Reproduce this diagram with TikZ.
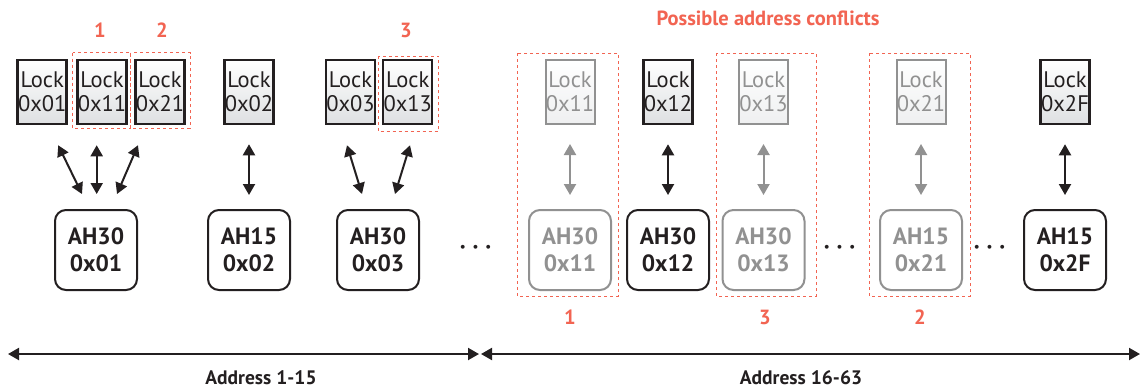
\documentclass[tikz,border=0pt]{standalone}
\usepackage{fontspec}
\setmainfont{PT Sans}
\usepackage{amsmath}
\usetikzlibrary{arrows.meta,calc}
\definecolor{dk}{RGB}{35,31,32}
\definecolor{gr}{RGB}{145,145,145}
\definecolor{rd}{RGB}{242,100,82}
\definecolor{lockbot}{RGB}{222,224,226}
\begin{document}
\begin{tikzpicture}[x=1pt,y=-1pt,
  lock/.style={draw=dk, line width=2.5pt, minimum width=49pt, minimum height=64pt, inner sep=0pt,
    top color=white, bottom color=lockbot, text=dk, align=center, font=\fontsize{22.5}{23.5}\selectfont},
  glock/.style={lock, draw=gr, line width=2pt, text=gr, bottom color=lockbot!50},
  ah/.style={draw=dk, line width=2pt, rounded corners=11pt, minimum width=82pt, minimum height=80pt,
    inner sep=0pt, fill=white, text=dk, align=center, font=\bfseries\fontsize{23.5}{27}\selectfont},
  gah/.style={ah, draw=gr, text=gr},
  link/.style={draw=dk, line width=2pt, {Triangle[length=11pt,width=12pt]}-{Triangle[length=11pt,width=12pt]}},
  glink/.style={link, draw=gr},
  vlink/.style={shorten <=19pt, shorten >=14pt},
  conf/.style={draw=rd, line width=1pt, dash pattern=on 3pt off 3pt},
  num/.style={text=rd, font=\bfseries\fontsize{20.5}{24}\selectfont},
  dots/.style={text=dk, font=\fontsize{24}{28}\selectfont},
  addr/.style={text=dk, font=\bfseries\fontsize{19.5}{22}\selectfont}
]
\useasboundingbox (0,0) rectangle (1147,389);
\fill[white] (0,0) rectangle (1147,389);

% dashed conflict frames
\draw[conf] (72.7,52.7) rectangle (130,128.3);
\draw[conf] (130.7,52.7) rectangle (190,128.3);
\draw[conf] (378.3,56) rectangle (438.3,131.7);
\draw[conf] (517,53) rectangle (618,296);
\draw[conf] (716,53) rectangle (816,296);
\draw[conf] (869,53) rectangle (970,296);

% lock boxes
\node[lock] (L01) at (42.2,92) {Lock\\0x01};
\node[lock] (L11) at (102,92) {Lock\\0x11};
\node[lock] (L21) at (160,92) {Lock\\0x21};
\node[lock] (L02) at (249,92) {Lock\\0x02};
\node[lock] (L03) at (350.5,92) {Lock\\0x03};
\node[lock] (L13) at (407.7,92) {Lock\\0x13};
\node[glock] (gL11) at (570,92) {Lock\\0x11};
\node[lock] (L12) at (668,92) {Lock\\0x12};
\node[glock] (gL13) at (763.5,92) {Lock\\0x13};
\node[glock] (gL21) at (921,92) {Lock\\0x21};
\node[lock] (L2F) at (1065,92) {Lock\\0x2F};

% AH boxes
\node[ah] (A01) at (96,250) {AH30\\0x01};
\node[ah] (A02) at (249,250) {AH15\\0x02};
\node[ah] (A03) at (378,250) {AH30\\0x03};
\node[gah] (gA11) at (570,250) {AH30\\0x11};
\node[ah] (A12) at (668,250) {AH30\\0x12};
\node[gah] (gA13) at (763.5,250) {AH30\\0x13};
\node[gah] (gA21) at (921,250) {AH15\\0x21};
\node[ah] (A2F) at (1065,250) {AH15\\0x2F};

% links
\draw[link] ($(L01.south)+(16,20)$) -- ($(A01.north)+(-14,-15)$);
\draw[link] ($(L11.south)+(-5.3,20)$) -- ($(A01.north)+(0.7,-15)$);
\draw[link] ($(L21.south)+(-22,20)$) -- ($(A01.north)+(21,-15)$);
\draw[link, vlink] (L02) -- (A02);
\draw[link] ($(L03.south)+(-3.5,20)$) -- ($(A03.north)+(-16,-15)$);
\draw[link] ($(L13.south)+(2.3,20)$) -- ($(A03.north)+(17,-15)$);
\draw[glink, vlink] (gL11) -- (gA11);
\draw[link, vlink] (L12) -- (A12);
\draw[glink, vlink] (gL13) -- (gA13);
\draw[glink, vlink] (gL21) -- (gA21);
\draw[link, vlink] (L2F) -- (A2F);

% numbers
\node[num] (n1) at (100,30) {1};
\node[num] (n2) at (162,30) {2};
\node[num] (n3) at (406,30) {3};
\node[num] (m1) at (570,317) {1};
\node[num] (m3) at (765,317) {3};
\node[num] (m2) at (920,317) {2};
\node[num] (title) at (768,18) {Possible address conflicts};

% ellipses
\node[dots] (e1) at (478,248) {$\boldsymbol{\cdots}$};
\node[dots] (e2) at (842,248) {$\boldsymbol{\cdots}$};
\node[dots] (e3) at (992,248) {$\boldsymbol{\cdots}$};

% address ranges
\coordinate (bl) at (8,354);
\coordinate (bm) at (480,354);
\coordinate (br) at (1140,354);
\draw[link] (bl) -- ([xshift=-1pt]bm);
\draw[link] ([xshift=1pt]bm) -- (br);
\node[addr] (a1) at (261,378) {Address 1-15};
\node[addr] (a2) at (801,378) {Address 16-63};
\end{tikzpicture}
\end{document}
